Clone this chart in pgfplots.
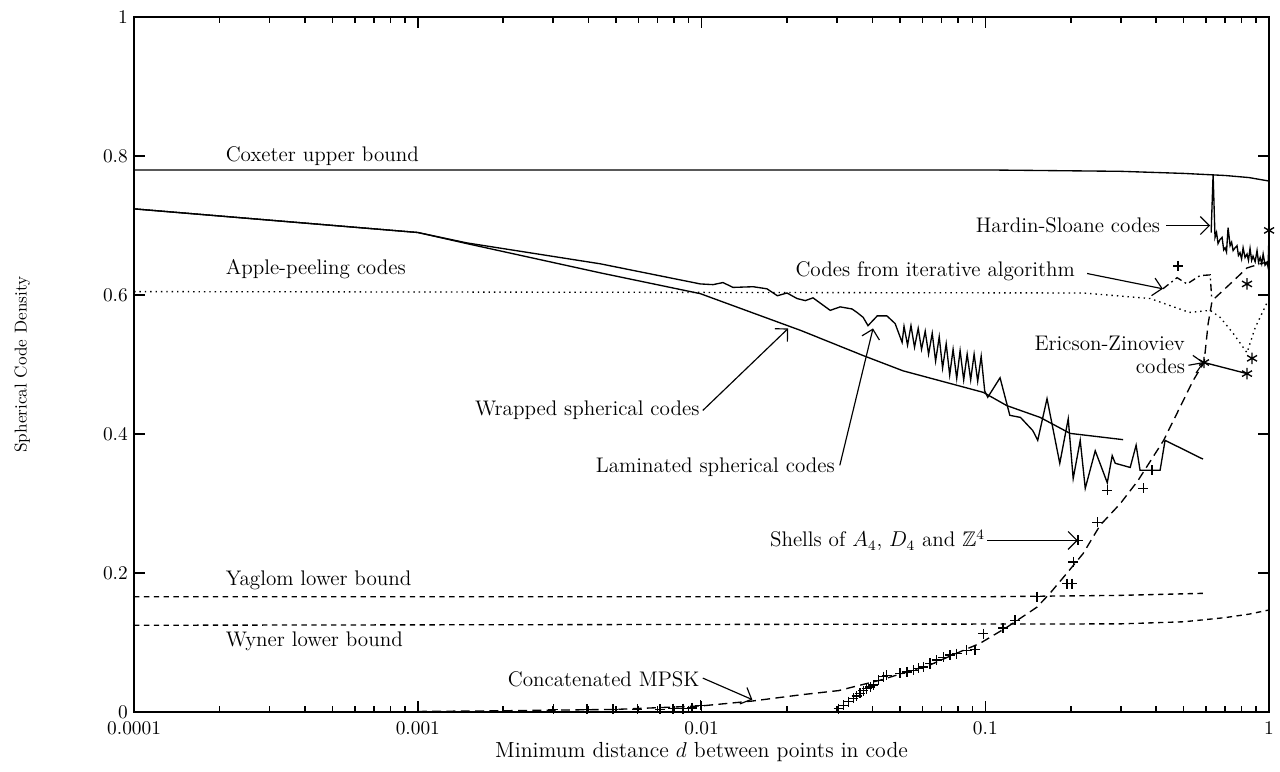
\documentclass[border=0pt]{standalone}
\usepackage{pgfplots}
\pgfplotsset{compat=1.18}
\usepackage{amssymb}
\usetikzlibrary{arrows.meta}
\newcommand{\lbl}{\fontsize{11.8}{12.5}\selectfont}
\begin{document}
\begin{tikzpicture}
\begin{axis}[name=ax,
  xmode=log, scale only axis, width=634pt, height=388.3pt,
  xmin=1e-4, xmax=1, ymin=0, ymax=1,
  xtick={1e-4,1e-3,1e-2,1e-1,1}, xticklabels={0.0001,0.001,0.01,0.1,1},
  ytick={0,0.2,0.4,0.6,0.8,1}, yticklabels={0,0.2,0.4,0.6,0.8,1},
  tick label style={font=\fontsize{10.8}{12}\selectfont},
  xticklabel style={yshift=-1.5pt},
  tick align=inside, major tick length=6pt, minor tick length=3.5pt,
  axis line style={line width=1.1pt},
  every tick/.style={line width=0.9pt,black},
  xlabel={Minimum distance $d$ between points in code},
  ylabel={Spherical Code Density},
  xlabel style={font=\fontsize{12.2}{14}\selectfont, at={(axis description cs:0.5,0)}, yshift=-22.3pt, anchor=center},
  ylabel style={font=\fontsize{9.6}{11}\selectfont, at={(axis description cs:-0.0985,0.5)}, anchor=center},
  clip=false,
  every axis plot/.append style={line width=0.75pt, black},
]
% Coxeter upper bound
\addplot[no marks] coordinates {(0.0001,0.780)(0.1,0.780)(0.3,0.778)(0.5,0.775)(0.7,0.772)(0.85,0.769)(1,0.764)};
% Yaglom lower bound
\addplot[no marks, dash pattern=on 3pt off 2.5pt] coordinates {(0.0001,0.166)(0.1,0.166)(0.3,0.168)(0.594,0.171)};
% Wyner lower bound
\addplot[no marks, dash pattern=on 3pt off 2.5pt] coordinates {(0.0001,0.125)(0.3,0.127)(0.5,0.130)(0.7,0.136)(0.85,0.141)(1,0.147)};
% Apple-peeling codes
\addplot[no marks, dash pattern=on 0.8pt off 2.2pt] coordinates {(0.0001,0.605)(0.221,0.603)(0.381,0.595)(0.524,0.575)(0.620,0.578)(0.672,0.568)(0.747,0.545)(0.836,0.517)(0.893,0.553)(0.984,0.589)(1,0.590)};
% Wrapped spherical codes
\addplot[no marks] coordinates {(0.0001,0.724)(0.001,0.690)(0.00149,0.674)(0.00439,0.632)(0.0099,0.602)(0.0189,0.560)(0.0224,0.549)(0.0371,0.513)(0.0513,0.491)(0.0984,0.460)(0.119,0.441)(0.156,0.424)(0.199,0.401)(0.306,0.392)};
% Laminated spherical codes
\addplot[no marks] coordinates {(0.0001,0.724)(0.001,0.690)(0.00149,0.675)(0.00439,0.645)(0.0099,0.616)(0.01098,0.615)(0.0119,0.618)(0.0129,0.611)(0.0152,0.612)(0.0170,0.609)(0.0185,0.599)(0.0200,0.603)(0.0217,0.595)(0.0232,0.592)(0.0247,0.596)(0.0284,0.578)(0.0308,0.583)(0.0339,0.580)(0.0353,0.575)(0.0371,0.568)(0.0386,0.556)(0.0416,0.570)(0.0450,0.570)(0.0481,0.559)(0.0509,0.532)
(0.0517,0.555)(0.0532,0.528)(0.0547,0.556)(0.0563,0.525)(0.0580,0.552)(0.0596,0.522)(0.0614,0.548)(0.0631,0.515)(0.0650,0.545)(0.0668,0.505)(0.0688,0.540)(0.0707,0.495)(0.0728,0.530)(0.0749,0.485)(0.0770,0.522)(0.0793,0.480)(0.0815,0.520)(0.0839,0.478)(0.0863,0.515)(0.0888,0.478)(0.0913,0.515)(0.0940,0.476)(0.0967,0.512)(0.0995,0.462)
(0.102,0.453)(0.1127,0.481)(0.122,0.427)(0.133,0.424)(0.147,0.405)(0.153,0.391)(0.165,0.451)(0.183,0.358)(0.196,0.422)(0.204,0.336)(0.216,0.391)(0.225,0.322)(0.244,0.376)(0.269,0.330)(0.280,0.369)(0.287,0.358)(0.324,0.352)(0.340,0.384)(0.351,0.348)(0.413,0.348)(0.430,0.391)(0.585,0.364)};
% Concatenated MPSK / shells curve
\addplot[no marks, dash pattern=on 5pt off 3pt] coordinates {(0.001,0.001)(0.002,0.002)(0.005,0.004)(0.01,0.009)(0.0151,0.016)(0.0224,0.025)(0.0304,0.031)(0.0426,0.046)(0.0639,0.068)(0.0795,0.085)(0.0958,0.099)(0.119,0.122)(0.152,0.151)(0.169,0.171)(0.194,0.200)(0.221,0.228)(0.254,0.269)(0.299,0.300)(0.345,0.333)(0.425,0.391)(0.540,0.477)(0.590,0.503)(0.610,0.559)(0.630,0.592)(0.729,0.616)(0.836,0.639)(0.930,0.645)(1,0.648)};
% Concatenated MPSK marks
\addplot[only marks, mark=+, mark size=2.8pt] coordinates {(0.0030,0.004)(0.00395,0.004)(0.00488,0.004)(0.00593,0.004)(0.00714,0.004)(0.00794,0.005)(0.00861,0.005)(0.00926,0.006)(0.0099,0.010)};
% Shells of A4, D4, Z4
\addplot[only marks, mark=+, mark size=2.8pt] coordinates {(0.0304,0.005)(0.0316,0.010)(0.0329,0.015)(0.0343,0.020)(0.0352,0.023)(0.0362,0.027)(0.0372,0.031)(0.0382,0.034)(0.0393,0.036)(0.0403,0.039)(0.0420,0.046)(0.0437,0.051)(0.0449,0.053)(0.0501,0.056)(0.0529,0.058)(0.0558,0.060)(0.0581,0.063)(0.0605,0.065)(0.0639,0.070)(0.0674,0.075)(0.0711,0.079)(0.0751,0.082)(0.0793,0.084)(0.0860,0.089)(0.0920,0.090)(0.0984,0.113)(0.1155,0.121)(0.1273,0.132)(0.152,0.166)(0.194,0.185)(0.202,0.185)(0.204,0.216)(0.212,0.247)(0.248,0.273)(0.269,0.319)(0.360,0.322)(0.387,0.348)(0.478,0.642)};
% Codes from iterative algorithm
\addplot[no marks, dash pattern=on 4pt off 2pt on 1pt off 2pt] coordinates {(0.4225,0.609)(0.474,0.625)(0.514,0.616)(0.571,0.628)(0.620,0.629)(0.628,0.595)};
% Hardin-Sloane codes
\addplot[no marks] coordinates {(0.625,0.690)(0.635,0.774)(0.645,0.683)(0.653,0.690)(0.661,0.674)(0.672,0.680)(0.683,0.683)(0.692,0.665)(0.700,0.668)(0.708,0.662)(0.717,0.697)(0.729,0.671)(0.738,0.676)(0.747,0.664)(0.759,0.668)(0.771,0.671)(0.780,0.657)(0.790,0.661)(0.800,0.652)(0.810,0.668)(0.823,0.654)(0.836,0.659)(0.846,0.650)(0.857,0.667)(0.868,0.650)(0.878,0.656)(0.893,0.648)(0.907,0.664)(0.918,0.647)(0.930,0.654)(0.942,0.645)(0.953,0.659)(0.968,0.643)(0.984,0.647)(0.992,0.640)(1,0.693)};
% Ericson-Zinoviev codes
\addplot[no marks] coordinates {(0.590,0.503)(0.836,0.487)};
\addplot[only marks, mark=asterisk, mark size=3.2pt] coordinates {(0.590,0.503)(0.836,0.487)(0.871,0.509)(0.836,0.616)(1,0.693)};

% labels
\node[anchor=west, font=\lbl] at (axis cs:2.0e-4,0.800) {Coxeter upper bound};
\node[anchor=west, font=\lbl] at (axis cs:2.0e-4,0.638) {Apple-peeling codes};
\node[anchor=west, font=\lbl] at (axis cs:2.0e-4,0.190) {Yaglom lower bound};
\node[anchor=west, font=\lbl] at (axis cs:2.0e-4,0.102) {Wyner lower bound};
\node[anchor=east, inner sep=1pt, font=\lbl] at (axis cs:0.0100,0.048) {Concatenated MPSK};
\node[anchor=east, inner sep=1pt, font=\lbl] at (axis cs:0.0100,0.434) {Wrapped spherical codes};
\node[anchor=east, inner sep=1pt, font=\lbl] at (axis cs:0.0300,0.352) {Laminated spherical codes};
\node[anchor=east, inner sep=1pt, font=\lbl] at (axis cs:0.1014,0.247) {Shells of $A_4$, $D_4$ and $\mathbb{Z}^4$};
\node[anchor=east, inner sep=1pt, align=right, font=\lbl] at (axis cs:0.514,0.514) {Ericson-Zinoviev\\codes};
\node[anchor=east, inner sep=1pt, font=\lbl] at (axis cs:0.2105,0.635) {Codes from iterative algorithm};
\node[anchor=east, inner sep=1pt, font=\lbl] at (axis cs:0.4197,0.700) {Hardin-Sloane codes};
% arrows
\begin{scope}[line width=0.65pt, -{Straight Barb[length=5pt,width=10pt]}]
\draw (axis cs:0.0101,0.049) -- (axis cs:0.0151,0.018);
\draw (axis cs:0.0101,0.434) -- (axis cs:0.0202,0.552);
\draw (axis cs:0.0307,0.355) -- (axis cs:0.0402,0.552);
\draw (axis cs:0.1014,0.247) -- (axis cs:0.212,0.247);
\draw (axis cs:0.520,0.499) -- (axis cs:0.590,0.503);
\draw (axis cs:0.2284,0.631) -- (axis cs:0.4225,0.609);
\draw (axis cs:0.434,0.700) -- (axis cs:0.620,0.700);
\end{scope}
\end{axis}
\pgfresetboundingbox
\path (ax.south west) ++(-74.9pt,-33pt) coordinate (bl);
\path (ax.north east) ++(6.1pt,9.5pt) coordinate (tr);
\useasboundingbox (bl) rectangle (tr);
\end{tikzpicture}
\end{document}
